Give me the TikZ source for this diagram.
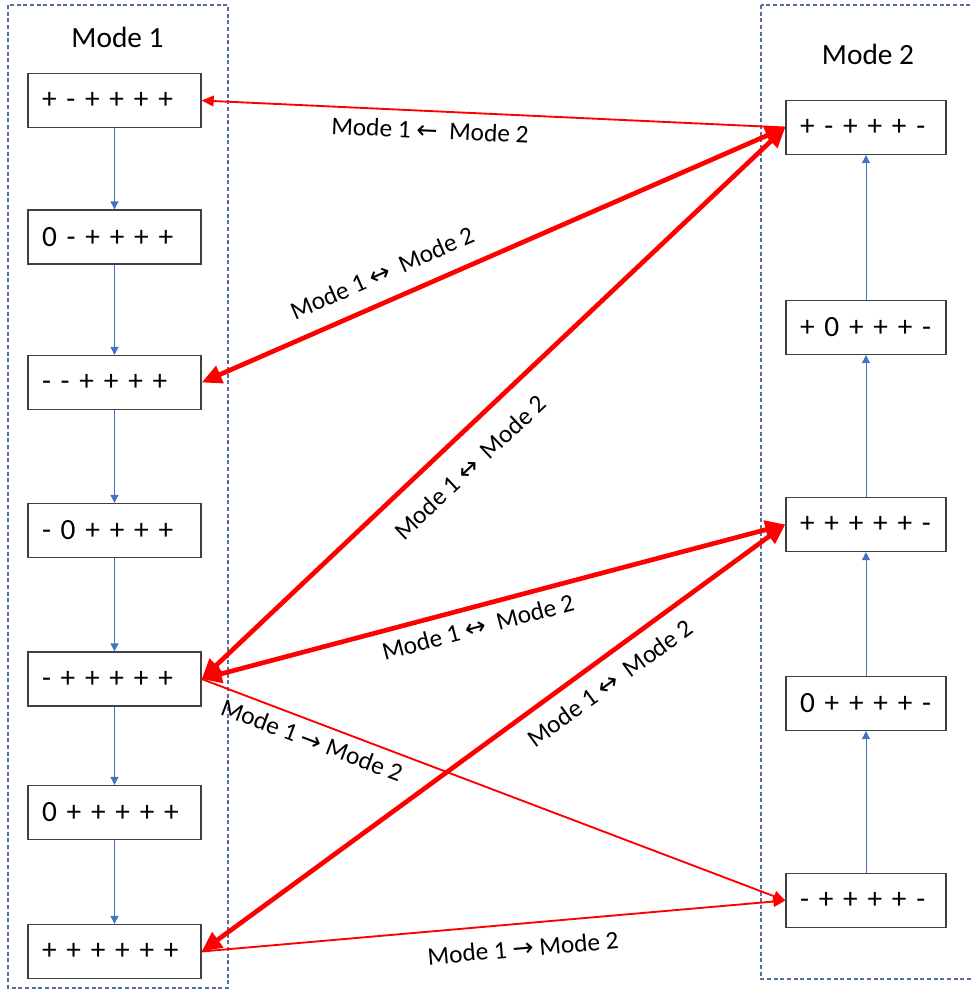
\documentclass[tikz,border=0pt]{standalone}
\usepackage{fontspec}
\setmainfont{Carlito}
\newfontfamily\arrowfont{DejaVu Sans}
\usetikzlibrary{arrows.meta}

\definecolor{stepblue}{RGB}{68,114,196}
\definecolor{framedash}{RGB}{84,110,160}
\definecolor{boxgray}{RGB}{64,64,64}

\begin{document}
\begin{tikzpicture}%
	[x={(0.75pt,0pt)},
	y={(0pt,-0.75pt)},
	modeframe/.style={color=framedash, line width=0.8pt, dash pattern=on 3pt off 2pt},
	modetitle/.style={anchor=base, font=\fontsize{22}{26}\selectfont},
	statebox/.style={draw=boxgray, line width=1pt, fill=white, minimum height=40.5pt, inner xsep=10.5pt, align=left, font=\fontsize{22}{26}\selectfont},
	leftstate/.style={statebox, text width=108.75pt},
	rightstate/.style={statebox, text width=99pt},
	stepedge/.style={color=stepblue, line width=0.75pt, -{Triangle[length=6pt,width=6pt]}},
	oneway/.style={color=red, line width=1.4pt, -{Triangle[length=9pt,width=8pt]}},
	twoway/.style={color=red, line width=3.5pt, {Triangle[length=15pt,width=13.5pt]}-{Triangle[length=15pt,width=13.5pt]}},
	translabel/.style={font=\fontsize{19}{22}\selectfont}]
	%
	\useasboundingbox (0,0) rectangle (972,989);
	%%
	%% Frames of the two modes
	%%
	\draw[modeframe] (8,5) rectangle (228,988);
	\draw[modeframe] (761,5) rectangle (985,979);
	\node[modetitle] (title1) at (117.5,47) {Mode 1};
	\node[modetitle] (title2) at (868,64) {Mode 2};
	%%
	%% States of mode 1
	%%
	\node[leftstate] (l1) at (114.5,100.5) {+ - + + + +};
	\node[leftstate] (l2) at (114.5,237) {0 - + + + +};
	\node[leftstate] (l3) at (114.5,382.5) {- - + + + +};
	\node[leftstate] (l4) at (114.5,530.5) {- 0 + + + +};
	\node[leftstate] (l5) at (114.5,679) {- + + + + +};
	\node[leftstate] (l6) at (114.5,812.5) {0 + + + + +};
	\node[leftstate] (l7) at (114.5,951.5) {+ + + + + +};
	%%
	%% States of mode 2
	%%
	\node[rightstate] (r1) at (866,127.5) {+ - + + + -};
	\node[rightstate] (r2) at (866,327.5) {+ 0 + + + -};
	\node[rightstate] (r3) at (866,524.5) {+ + + + + -};
	\node[rightstate] (r4) at (866,703.5) {0 + + + + -};
	\node[rightstate] (r5) at (866,900.5) {- + + + + -};
	%%
	%% Steps inside each mode
	%%
	\draw[stepedge] (l1) -- (l2);
	\draw[stepedge] (l2) -- (l3);
	\draw[stepedge] (l3) -- (l4);
	\draw[stepedge] (l4) -- (l5);
	\draw[stepedge] (l5) -- (l6);
	\draw[stepedge] (l6) -- (l7);
	\draw[stepedge] (r5) -- (r4);
	\draw[stepedge] (r4) -- (r3);
	\draw[stepedge] (r3) -- (r2);
	\draw[stepedge] (r2) -- (r1);
	%%
	%% Transitions between the modes
	%%
	\draw[oneway] (r1.west) -- (l1.east);
	\draw[twoway] (l3.east) -- (r1.west);
	\draw[twoway] (l5.east) -- (r1.west);
	\draw[twoway] (l5.east) -- (r3.west);
	\draw[twoway] (l7.east) -- (r3.west);
	\draw[oneway] (l5.east) -- (r5.west);
	\draw[oneway] (l7.east) -- (r5.west);
	%
	\node[translabel, rotate=-2.6] (t1) at (430,130) {Mode 1 {\arrowfont ←}\ \ Mode 2};
	\node[translabel, rotate=23.6] (t2) at (382,273) {Mode 1 {\arrowfont ↔}\ \ Mode 2};
	\node[translabel, rotate=43.3] (t3) at (470,467) {Mode 1 {\arrowfont ↔}\ \ Mode 2};
	\node[translabel, rotate=14.8] (t4) at (478,627) {Mode 1 {\arrowfont ↔}\ \ Mode 2};
	\node[translabel, rotate=36.1] (t5) at (610,683) {Mode 1 {\arrowfont ↔}\ \ Mode 2};
	\node[translabel, rotate=-20.7] (t6) at (312,740) {Mode 1 {\arrowfont →} Mode 2};
	\node[translabel, rotate=5.0] (t7) at (523,948) {Mode 1 {\arrowfont →} Mode 2};

\end{tikzpicture}
\end{document}
